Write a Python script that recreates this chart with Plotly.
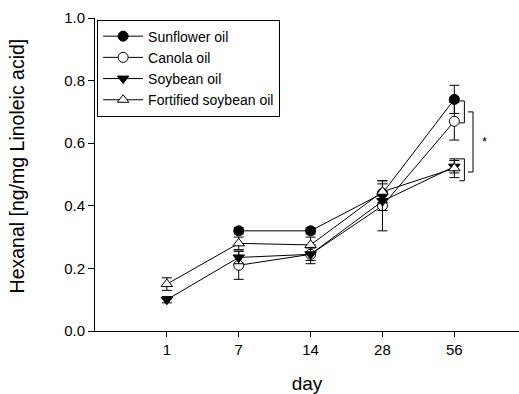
import plotly.graph_objects as go

days = ["1", "7", "14", "28", "56"]

sunflower_days = ["7", "14", "28", "56"]
sunflower = [0.32, 0.32, 0.44, 0.74]
sunflower_err = [0.01, 0.01, 0.03, 0.045]

canola_days = ["7", "14", "28", "56"]
canola = [0.21, 0.245, 0.40, 0.67]
canola_err = [0.045, 0.03, 0.08, 0.06]

soybean_days = ["1", "7", "14", "28", "56"]
soybean = [0.10, 0.235, 0.245, 0.415, 0.525]
soybean_err = [0.01, 0.02, 0.02, 0.03, 0.02]

fortified_days = ["1", "7", "14", "28", "56"]
fortified = [0.15, 0.28, 0.275, 0.445, 0.52]
fortified_err = [0.02, 0.02, 0.025, 0.035, 0.03]

FONT = "Arial, Liberation Sans, sans-serif"

fig = go.Figure()

def add(name, x, y, err, symbol, fill):
    fig.add_trace(go.Scatter(
        x=x, y=y, name=name, mode="lines+markers",
        line=dict(color="black", width=1),
        marker=dict(symbol=symbol, size=10, color=fill,
                    line=dict(color="black", width=1)),
        error_y=dict(type="data", array=err, visible=True,
                     color="black", thickness=1, width=5),
    ))

add("Sunflower oil", sunflower_days, sunflower, sunflower_err, "circle", "black")
add("Canola oil", canola_days, canola, canola_err, "circle", "white")
add("Soybean oil", soybean_days, soybean, soybean_err, "triangle-down", "black")
add("Fortified soybean oil", fortified_days, fortified, fortified_err, "triangle-up", "white")

# significance brackets (x in category-index units)
brackets = [
    (4.14, 0.665, 0.735),
    (4.26, 0.508, 0.70),
    (4.14, 0.48, 0.55),
]
for bx, y0, y1 in brackets:
    fig.add_shape(type="path",
                  path=f"M {bx-0.07},{y0} L {bx},{y0} L {bx},{y1} L {bx-0.07},{y1}",
                  xref="x", yref="y", line=dict(color="black", width=1))

fig.add_annotation(x=4.42, y=0.607, xref="x", yref="y", text="*",
                   showarrow=False, font=dict(family=FONT, size=13, color="black"))

# y-axis title placed as annotation
fig.add_annotation(x=-0.183, y=0.527, xref="paper", yref="paper",
                   text="Hexanal [ng/mg Linoleic acid]", textangle=-90,
                   showarrow=False, xanchor="center", yanchor="middle",
                   font=dict(family=FONT, size=19.5, color="black"))

fig.update_layout(
    width=519, height=394,
    margin=dict(l=95, r=0, t=18, b=63),
    plot_bgcolor="white", paper_bgcolor="white",
    font=dict(family=FONT, color="black"),
    showlegend=True,
    legend=dict(x=0.005, y=0.995, xanchor="left", yanchor="top",
                bordercolor="black", borderwidth=1, bgcolor="white",
                font=dict(family=FONT, size=14, color="black"),
                tracegroupgap=0, itemwidth=40),
    xaxis=dict(type="category", categoryorder="array", categoryarray=days,
               range=[-1, 4.9], showline=True, linecolor="black", linewidth=1,
               ticks="outside", ticklen=5, tickcolor="black",
               showgrid=False, zeroline=False,
               tickfont=dict(family=FONT, size=15, color="black"),
               title=dict(text="day", font=dict(family=FONT, size=19, color="black"),
                          standoff=21)),
    yaxis=dict(range=[0, 1.0], tickvals=[0, 0.2, 0.4, 0.6, 0.8, 1.0],
               ticktext=["0.0", "0.2", "0.4", "0.6", "0.8", "1.0"],
               showline=True, linecolor="black", linewidth=1,
               ticks="outside", ticklen=6, tickcolor="black",
               showgrid=False, zeroline=False,
               tickfont=dict(family=FONT, size=15, color="black")),
)

fig.write_html("out.html")
